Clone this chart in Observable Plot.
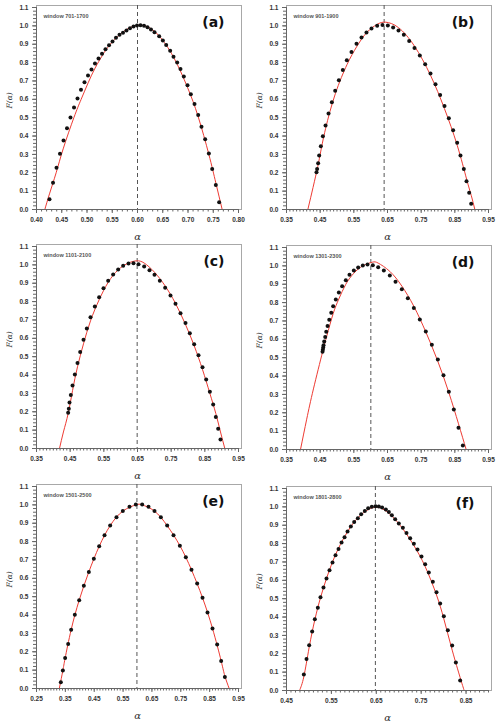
<!DOCTYPE html>
<html><head><meta charset="utf-8">
<script src="https://cdn.jsdelivr.net/npm/d3@7"></script>
<script src="https://cdn.jsdelivr.net/npm/@observablehq/plot@0.6"></script>
<style>
body{margin:0;background:#fff;}
#wrap{position:relative;width:500px;height:724px;overflow:hidden;}
.panel{position:absolute;}
</style></head><body><div id="wrap"></div>
<script>
// ---- data ----
const panelLabels = ["(a)", "(b)", "(c)", "(d)", "(e)", "(f)"];
const windowLabels = ["window 701-1700", "window 901-1900", "window 1101-2100", "window 1301-2300", "window 1501-2500", "window 1801-2800"];
const xDomains = [[0.40, 0.80], [0.35, 0.95], [0.35, 0.95], [0.35, 0.95], [0.25, 0.95], [0.45, 0.90]];
const xTickLabels = [
  [0.40, 0.45, 0.50, 0.55, 0.60, 0.65, 0.70, 0.75, 0.80],
  [0.35, 0.45, 0.55, 0.65, 0.75, 0.85, 0.95],
  [0.35, 0.45, 0.55, 0.65, 0.75, 0.85, 0.95],
  [0.35, 0.45, 0.55, 0.65, 0.75, 0.85, 0.95],
  [0.25, 0.35, 0.45, 0.55, 0.65, 0.75, 0.85, 0.95],
  [0.45, 0.55, 0.65, 0.75, 0.85]
];
const yTickLabels = [0.0, 0.1, 0.2, 0.3, 0.4, 0.5, 0.6, 0.7, 0.8, 0.9, 1.0, 1.1];
const peakAlpha = [0.600, 0.640, 0.649, 0.6005, 0.598, 0.648];

const aDots = [[0.4257,0.056],[0.4327,0.145],[0.4396,0.227],[0.4465,0.303],[0.4535,0.376],[0.4604,0.443],[0.4673,0.501],[0.4743,0.555],[0.4812,0.604],[0.4881,0.652],[0.4950,0.693],[0.5020,0.730],[0.5089,0.762],[0.5158,0.795],[0.5228,0.822],[0.5297,0.848],[0.5366,0.873],[0.5436,0.895],[0.5505,0.915],[0.5574,0.935],[0.5644,0.951],[0.5713,0.963],[0.5782,0.975],[0.5851,0.987],[0.5921,0.996],[0.5990,1.002],[0.6059,1.004],[0.6129,1.000],[0.6198,0.993],[0.6267,0.980],[0.6337,0.965],[0.6429,0.944],[0.6502,0.920],[0.6568,0.896],[0.6647,0.865],[0.6713,0.832],[0.6786,0.800],[0.6851,0.765],[0.6917,0.724],[0.6990,0.677],[0.7056,0.628],[0.7129,0.574],[0.7202,0.515],[0.7267,0.451],[0.7340,0.382],[0.7413,0.305],[0.7479,0.220],[0.7551,0.133],[0.7617,0.040]];
const aFit = [[0.4165,0],[0.4257,0.085],[0.4389,0.20],[0.4528,0.33],[0.474,0.50],[0.4884,0.60],[0.5023,0.69],[0.516,0.77],[0.5307,0.84],[0.5446,0.895],[0.5657,0.955],[0.583,0.987],[0.600,1.003],[0.620,0.995],[0.6429,0.945],[0.6713,0.83],[0.699,0.665],[0.7202,0.505],[0.7413,0.30],[0.7551,0.145],[0.7677,0]];

const bDots = [[0.4391,0.203],[0.441,0.220],[0.444,0.252],[0.447,0.294],[0.452,0.345],[0.458,0.399],[0.466,0.457],[0.4748,0.523],[0.4847,0.584],[0.4946,0.646],[0.5055,0.704],[0.5173,0.760],[0.5292,0.813],[0.543,0.858],[0.5579,0.902],[0.5728,0.936],[0.5876,0.964],[0.6025,0.985],[0.6193,1.000],[0.6351,1.005],[0.651,1.002],[0.6668,0.991],[0.6827,0.975],[0.6985,0.951],[0.7144,0.918],[0.7302,0.880],[0.746,0.838],[0.7619,0.791],[0.7777,0.740],[0.7926,0.682],[0.8064,0.624],[0.8193,0.563],[0.8322,0.497],[0.845,0.432],[0.8569,0.363],[0.8668,0.294],[0.8767,0.221],[0.8847,0.154],[0.8926,0.091],[0.8985,0.031]];
const bFit = [[0.4134,0],[0.425,0.09],[0.44,0.21],[0.45,0.30],[0.466,0.44],[0.495,0.63],[0.53,0.79],[0.558,0.885],[0.588,0.963],[0.619,1.008],[0.645,1.02],[0.683,0.99],[0.73,0.89],[0.778,0.73],[0.819,0.55],[0.857,0.35],[0.885,0.165],[0.899,0.075],[0.9094,0]];

const cDots = [[0.444,0.194],[0.446,0.216],[0.448,0.250],[0.452,0.292],[0.457,0.343],[0.4639,0.403],[0.4718,0.465],[0.4797,0.526],[0.4896,0.592],[0.4995,0.653],[0.5104,0.715],[0.5233,0.773],[0.5361,0.824],[0.549,0.873],[0.5629,0.913],[0.5777,0.947],[0.5926,0.975],[0.6074,0.995],[0.6233,1.007],[0.6381,1.009],[0.653,1.004],[0.6698,0.991],[0.6856,0.971],[0.7005,0.946],[0.7163,0.913],[0.7322,0.875],[0.748,0.833],[0.7629,0.788],[0.7777,0.737],[0.7926,0.684],[0.8054,0.628],[0.8183,0.568],[0.8312,0.508],[0.8431,0.443],[0.854,0.376],[0.8649,0.309],[0.8748,0.240],[0.8827,0.172],[0.8896,0.107],[0.8965,0.049]];
const cFit = [[0.4183,0],[0.43,0.09],[0.444,0.19],[0.457,0.315],[0.4718,0.445],[0.4896,0.57],[0.5104,0.695],[0.5361,0.81],[0.5629,0.905],[0.5926,0.973],[0.6233,1.01],[0.648,1.022],[0.6698,1.01],[0.7005,0.96],[0.7322,0.885],[0.7629,0.79],[0.7926,0.675],[0.8183,0.56],[0.8431,0.43],[0.865,0.30],[0.8827,0.19],[0.8965,0.09],[0.9094,0]];

const dDots = [[0.457,0.532],[0.458,0.543],[0.459,0.555],[0.460,0.568],[0.462,0.588],[0.465,0.612],[0.468,0.641],[0.472,0.673],[0.477,0.706],[0.483,0.744],[0.4886,0.780],[0.4965,0.817],[0.5055,0.855],[0.5153,0.889],[0.5262,0.922],[0.5371,0.951],[0.550,0.975],[0.5629,0.991],[0.5767,1.002],[0.5906,1.007],[0.6064,1.004],[0.6223,0.993],[0.6391,0.975],[0.6569,0.947],[0.6738,0.913],[0.6926,0.873],[0.7104,0.824],[0.7282,0.770],[0.746,0.708],[0.7638,0.642],[0.7817,0.570],[0.7995,0.490],[0.8163,0.405],[0.8322,0.314],[0.847,0.218],[0.8609,0.118],[0.8738,0.022]];
const dFit = [[0.3916,0],[0.41,0.165],[0.43,0.33],[0.457,0.53],[0.47,0.62],[0.4886,0.74],[0.5055,0.82],[0.5262,0.90],[0.550,0.96],[0.5767,1.0],[0.605,1.02],[0.6223,1.015],[0.6569,0.97],[0.6926,0.89],[0.7282,0.78],[0.7638,0.64],[0.7995,0.48],[0.8322,0.31],[0.8609,0.14],[0.8837,0]];

const eDots = [[0.3343,0.034],[0.3413,0.098],[0.3493,0.166],[0.3597,0.242],[0.3701,0.320],[0.3828,0.402],[0.3979,0.481],[0.414,0.559],[0.4314,0.635],[0.4487,0.706],[0.4672,0.774],[0.4857,0.834],[0.5053,0.887],[0.5272,0.932],[0.5492,0.966],[0.5723,0.990],[0.5942,1.002],[0.6162,1.002],[0.6381,0.990],[0.6589,0.966],[0.6809,0.932],[0.7028,0.887],[0.7248,0.834],[0.7468,0.778],[0.7675,0.715],[0.7871,0.646],[0.8068,0.572],[0.8253,0.494],[0.8426,0.414],[0.8599,0.327],[0.8761,0.239],[0.8899,0.150],[0.9027,0.062]];
const eFit = [[0.329,0],[0.3413,0.098],[0.3493,0.166],[0.3701,0.32],[0.3979,0.481],[0.4314,0.635],[0.4672,0.774],[0.5053,0.887],[0.5492,0.966],[0.5942,1.0],[0.6162,1.0],[0.6589,0.966],[0.7028,0.887],[0.7468,0.778],[0.7871,0.646],[0.8253,0.494],[0.8599,0.327],[0.8899,0.150],[0.9027,0.068],[0.9177,0]];

const fDots = [[0.4886,0.087],[0.4946,0.171],[0.5005,0.247],[0.5072,0.321],[0.5131,0.388],[0.5198,0.450],[0.5257,0.508],[0.5324,0.561],[0.5391,0.610],[0.5458,0.655],[0.5525,0.697],[0.5592,0.737],[0.5659,0.771],[0.5726,0.806],[0.5793,0.835],[0.586,0.866],[0.5933,0.893],[0.6008,0.917],[0.6089,0.938],[0.6163,0.960],[0.6245,0.978],[0.6319,0.993],[0.6401,1.000],[0.6483,1.004],[0.6557,1.002],[0.663,0.997],[0.6713,0.985],[0.678,0.972],[0.6847,0.955],[0.6921,0.933],[0.7002,0.909],[0.7092,0.886],[0.7173,0.858],[0.7255,0.829],[0.7337,0.799],[0.7418,0.768],[0.7507,0.730],[0.7589,0.688],[0.767,0.642],[0.776,0.592],[0.7842,0.535],[0.7923,0.474],[0.8005,0.405],[0.8094,0.328],[0.8191,0.245],[0.8273,0.152],[0.8369,0.054]];
const fFit = [[0.479,0],[0.4886,0.075],[0.5005,0.235],[0.5131,0.385],[0.5257,0.505],[0.5391,0.61],[0.5525,0.70],[0.5659,0.775],[0.586,0.865],[0.6089,0.94],[0.6319,0.985],[0.6483,0.998],[0.6631,0.99],[0.6847,0.95],[0.7092,0.88],[0.7337,0.79],[0.7589,0.675],[0.7842,0.52],[0.8005,0.39],[0.8191,0.22],[0.8369,0.07],[0.8458,0]];

const allDots = [aDots, bDots, cDots, dDots, eDots, fDots];
const allFits = [aFit, bFit, cFit, dFit, eFit, fFit];

// ---- layout ----
const panelPos = [[0, 0], [250, 0], [0, 239], [250, 240], [0, 479], [250, 481]];
const wrap = document.getElementById("wrap");

function makePanel(i) {
  const [x0, x1] = xDomains[i];
  const minorX = d3.range(Math.round(x0 * 100), Math.round(x1 * 100) + 1).map(v => v / 100);
  const minorY = d3.range(0, 56).map(v => v / 50);
  return Plot.plot({
    width: 250, height: 240,
    marginTop: 7, marginLeft: 36, marginRight: 12, marginBottom: 31,
    x: {domain: [x0, x1]},
    y: {domain: [0, 1.1]},
    style: {fontFamily: "'Liberation Sans', Arial, sans-serif", fontSize: "6.5px", color: "#333", background: "transparent", overflow: "visible"},
    marks: [
      Plot.frame({stroke: "#a8a8a8", insetTop: -2, insetRight: -3}),
      Plot.ruleX([peakAlpha[i]], {stroke: "#555", strokeWidth: 1, strokeDasharray: "4,3", insetTop: -2}),
      Plot.line(allFits[i], {x: d => d[0], y: d => d[1], stroke: "#ee3b33", strokeWidth: 1, curve: "natural"}),
      Plot.dot(allDots[i], {x: d => d[0], y: d => d[1], r: 2, fill: "#111", stroke: "none"}),
      Plot.ruleY([0], {stroke: "#666"}),
      Plot.ruleX([x0], {stroke: "#666"}),
      Plot.axisX({ticks: minorX, tickSize: 2.5, text: null, stroke: "#666", label: null}),
      Plot.axisX({ticks: xTickLabels[i], tickSize: 4, tickPadding: 4, tickFormat: d => d.toFixed(2), fontWeight: "bold", stroke: "#666", label: null}),
      Plot.axisY({ticks: minorY, tickSize: 3, text: null, stroke: "#666", label: null}),
      Plot.axisY({ticks: yTickLabels, tickSize: 4, tickPadding: 4, tickFormat: d => d.toFixed(1), fontWeight: "bold", stroke: "#666", label: null}),
      Plot.text([windowLabels[i]], {text: d => d, frameAnchor: "top-left", textAnchor: "start", lineAnchor: "middle", dx: 7, dy: 9, fontSize: 5.5, fontWeight: "bold", fill: "#555"}),
      Plot.text([panelLabels[i]], {text: d => d, frameAnchor: "top-right", textAnchor: "end", lineAnchor: "middle", dx: -14, dy: 15, fontSize: 14, fontWeight: "bold", fontFamily: "'DejaVu Sans', sans-serif", fill: "#111"}),
      Plot.text(["α"], {text: d => d, frameAnchor: "bottom", lineAnchor: "middle", dy: 27, fontSize: 10, fontStyle: "italic", fontFamily: "'DejaVu Serif', serif", fill: "#333"}),
      Plot.text(["F(α)"], {text: d => d, frameAnchor: "left", lineAnchor: "middle", dx: -27, rotate: -90, fontSize: 7.5, fontStyle: "italic", fontFamily: "'DejaVu Serif', serif", fill: "#333"})
    ]
  });
}

for (let i = 0; i < 6; i++) {
  const div = document.createElement("div");
  div.className = "panel";
  div.style.left = panelPos[i][0] + "px";
  div.style.top = panelPos[i][1] + "px";
  div.appendChild(makePanel(i));
  wrap.appendChild(div);
}
</script>
</body></html>
